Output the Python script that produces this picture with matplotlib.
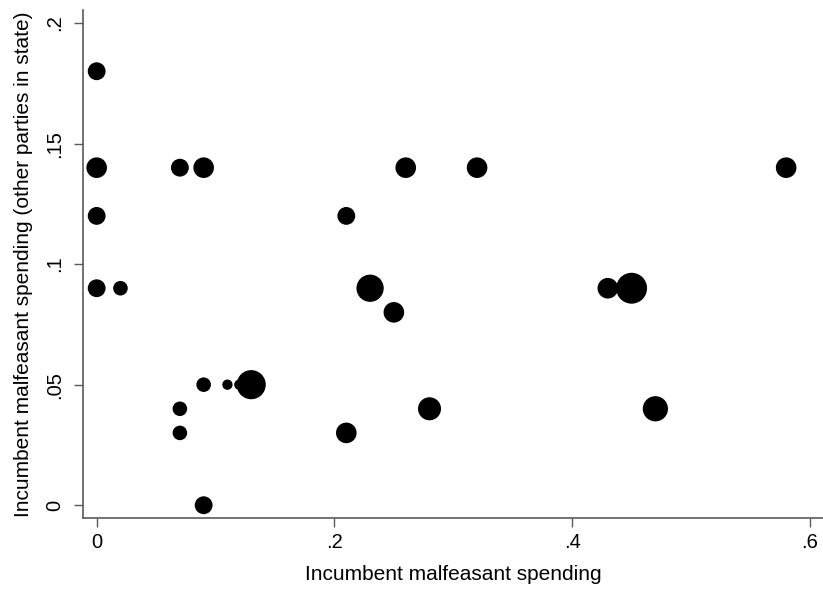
import matplotlib
matplotlib.use("Agg")
import matplotlib.pyplot as plt

# x: incumbent malfeasant spending, y: other parties in state, w: frequency weight
x_vals = [0, 0, 0.07, 0.09, 0.26, 0.32, 0.58,
          0, 0.21,
          0, 0.02, 0.23, 0.25, 0.43, 0.45,
          0.09, 0.11, 0.12, 0.13,
          0.07, 0.28, 0.47,
          0.07, 0.21,
          0.09]
y_vals = [0.18, 0.14, 0.14, 0.14, 0.14, 0.14, 0.14,
          0.12, 0.12,
          0.09, 0.09, 0.09, 0.08, 0.09, 0.09,
          0.05, 0.05, 0.05, 0.05,
          0.04, 0.04, 0.04,
          0.03, 0.03,
          0.0]
weights = [3, 4, 3, 4, 4, 4, 4,
           3, 3,
           3, 2, 7, 4, 4, 9,
           2, 1, 1, 8,
           2, 5, 6,
           2, 4,
           3]

xticks = [0, 0.2, 0.4, 0.6]
xtick_labels = ["0", ".2", ".4", ".6"]
yticks = [0, 0.05, 0.1, 0.15, 0.2]
ytick_labels = ["0", ".05", ".1", ".15", ".2"]

plt.rcParams['font.family'] = ['Liberation Sans', 'DejaVu Sans']

fig = plt.figure(figsize=(8.23, 5.92), dpi=100)
ax = fig.add_axes([83 / 823, 74 / 592, 740 / 823, 508 / 592])

ax.scatter(x_vals, y_vals, s=[55 * w for w in weights], color="black", linewidths=0)

ax.set_xlim(-0.0115, 0.611)
ax.set_ylim(-0.0053, 0.2054)

ax.set_xticks(xticks)
ax.set_xticklabels(xtick_labels)
ax.set_yticks(yticks)
ax.set_yticklabels(ytick_labels, rotation=90, va="center")

axis_col = "#5a5a5a"
for side in ["top", "right"]:
    ax.spines[side].set_visible(False)
for side in ["left", "bottom"]:
    ax.spines[side].set_color(axis_col)
    ax.spines[side].set_linewidth(1.2)

ax.tick_params(axis="x", direction="out", length=6.5, width=1, color=axis_col,
               labelsize=14.5, pad=4)
ax.tick_params(axis="y", direction="out", length=6.5, width=1, color=axis_col,
               labelsize=14.5, pad=7)

ax.set_xlabel("Incumbent malfeasant spending", fontsize=15, labelpad=10)
ax.set_ylabel("Incumbent malfeasant spending (other parties in state)", fontsize=15, labelpad=9)

fig.savefig("out.png", dpi=100)
